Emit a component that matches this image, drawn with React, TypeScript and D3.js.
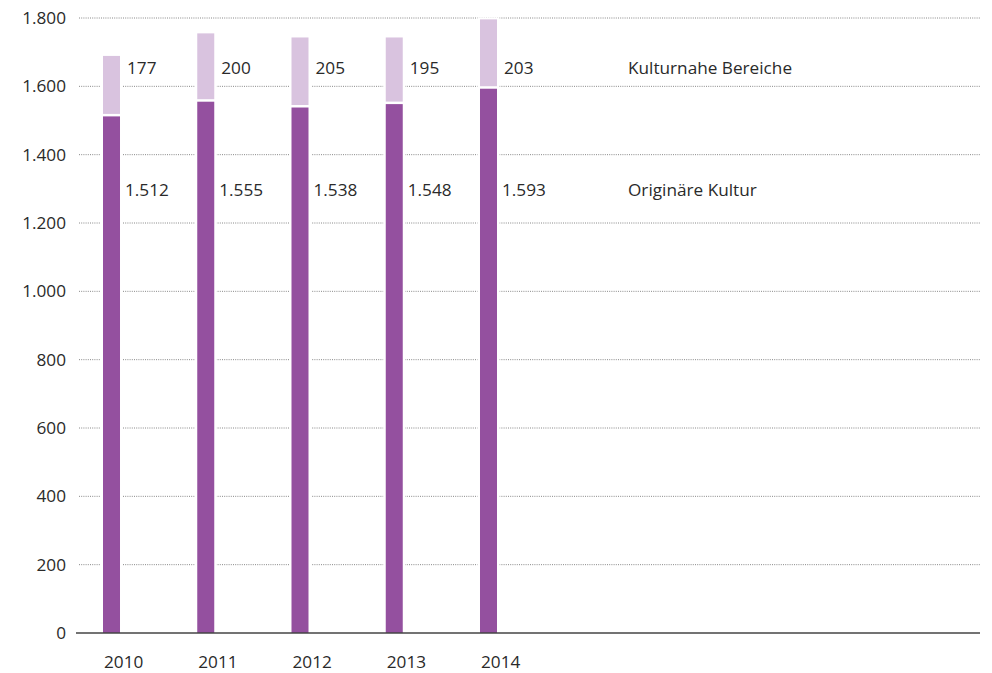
import React from "react";
import * as d3 from "d3";

const years = ["2010", "2011", "2012", "2013", "2014"];
const originaere = [1512, 1555, 1538, 1548, 1593];
const kulturnahe = [177, 200, 205, 195, 203];
const yTicks = [0, 200, 400, 600, 800, 1000, 1200, 1400, 1600, 1800];
const seriesNames = ["Originäre Kultur", "Kulturnahe Bereiche"];

const W = 992;
const H = 673;
const DARK = "#94509f";
const LIGHT = "#d9c3df";
const TEXT = "#2a2a2a";
const FONT = "'Open Sans', sans-serif";
const FS = 17.2;

const fmt = (v: number) => d3.format(",")(v).replace(/,/g, ".");

export default function App() {
  const y = d3.scaleLinear().domain([0, 1800]).range([633, 18]);
  const x = d3.scaleBand<string>().domain(years).range([103, 497]).paddingInner(0.8196).paddingOuter(0);
  const bw = x.bandwidth();
  const gridX0 = 79;
  const gridX1 = 980;
  const topLabelY = 68;
  const botLabelY = 190;

  return (
    <svg width={W} height={H} style={{ position: "absolute", left: 0, top: 0, background: "#fff" }}>
      {yTicks.filter((t) => t > 0).map((t) => (
        <line key={t} x1={gridX0} x2={gridX1} y1={y(t)} y2={y(t)} stroke="#888" strokeWidth={1} strokeDasharray="1,1.2" />
      ))}
      {yTicks.map((t) => (
        <text key={"l" + t} x={66} y={y(t)} dy="0.35em" textAnchor="end" fontFamily={FONT} fontSize={FS} fontWeight={500} fill={TEXT}>
          {fmt(t)}
        </text>
      ))}
      {years.map((yr, i) => (
        <rect key={"h" + yr} x={x(yr)! - 2.5} width={bw + 5} y={y(originaere[i] + kulturnahe[i]) - 2} height={y(0) - y(originaere[i] + kulturnahe[i]) + 2} fill="#fff" />
      ))}
      {years.map((yr, i) => (
        <g key={"b" + yr}>
          <rect x={x(yr)} width={bw} y={y(originaere[i])} height={y(0) - y(originaere[i])} fill={DARK} />
          <rect x={x(yr)} width={bw} y={y(originaere[i] + kulturnahe[i])} height={y(originaere[i]) - y(originaere[i] + kulturnahe[i]) - 2.5} fill={LIGHT} />
        </g>
      ))}
      <line x1={76} x2={gridX1} y1={y(0)} y2={y(0)} stroke="#444" strokeWidth={1.5} />
      {years.map((yr, i) => (
        <g key={"v" + yr} fontFamily={FONT} fontSize={FS} fontWeight={500} fill={TEXT}>
          <text x={x(yr)! + bw + 7} y={topLabelY} dy="0.35em">{fmt(kulturnahe[i])}</text>
          <text x={x(yr)! + bw + 5} y={botLabelY} dy="0.35em">{fmt(originaere[i])}</text>
        </g>
      ))}
      <text x={628} y={topLabelY} dy="0.35em" fontFamily={FONT} fontSize={FS} fontWeight={500} fill={TEXT}>{seriesNames[1]}</text>
      <text x={628} y={botLabelY} dy="0.35em" fontFamily={FONT} fontSize={FS} fontWeight={500} fill={TEXT}>{seriesNames[0]}</text>
      {years.map((yr) => (
        <text key={"x" + yr} x={x(yr)! + 1} y={662} dy="0.35em" textAnchor="start" fontFamily={FONT} fontSize={FS} fontWeight={500} fill={TEXT}>
          {yr}
        </text>
      ))}
    </svg>
  );
}
